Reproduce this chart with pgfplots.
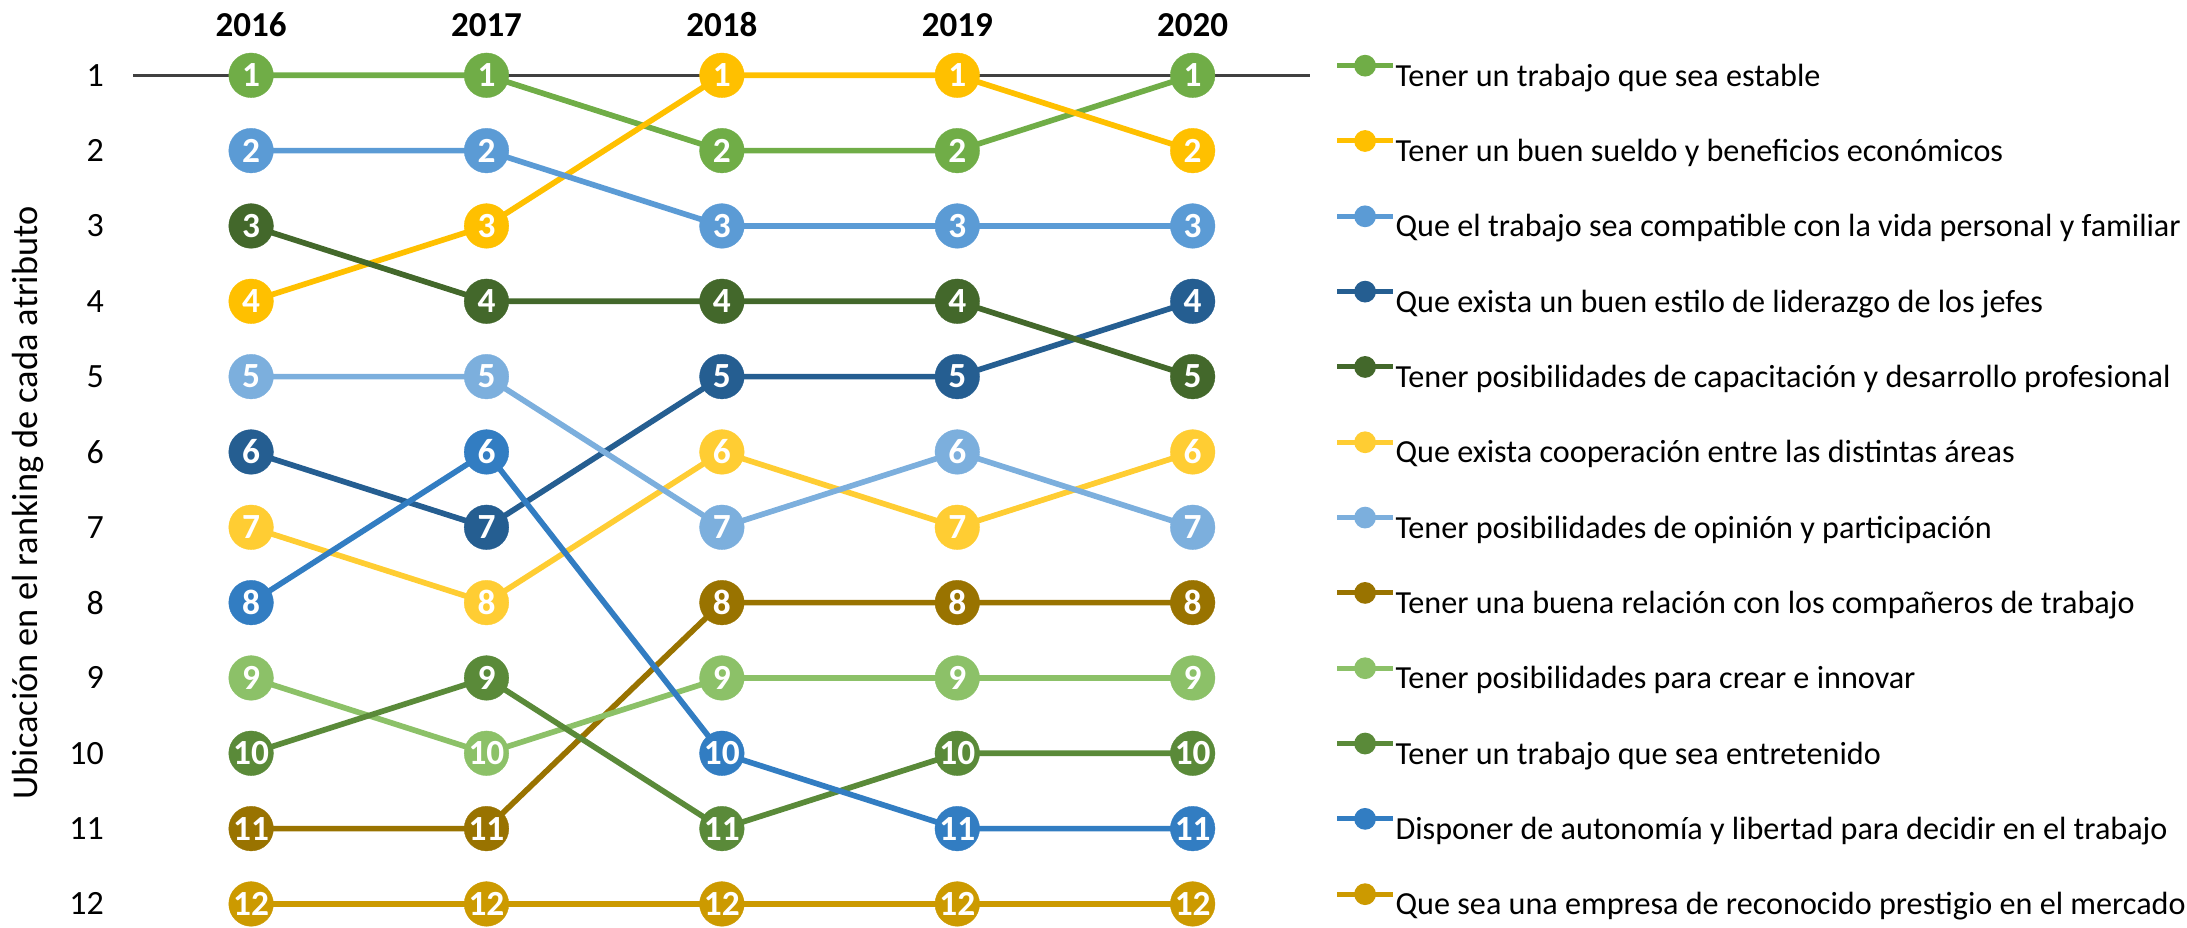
\documentclass[border=0pt]{standalone}
\usepackage{fontspec}
\setmainfont{Carlito}
\usepackage{pgfplots}
\pgfplotsset{compat=1.18}
\definecolor{c1}{HTML}{70AD47}
\definecolor{c2}{HTML}{FFC000}
\definecolor{c3}{HTML}{5B9BD5}
\definecolor{c4}{HTML}{255E91}
\definecolor{c5}{HTML}{43682B}
\definecolor{c6}{HTML}{FFCD33}
\definecolor{c7}{HTML}{7CAFDD}
\definecolor{c8}{HTML}{997300}
\definecolor{c9}{HTML}{8CC168}
\definecolor{c10}{HTML}{5A8A39}
\definecolor{c11}{HTML}{327DC2}
\definecolor{c12}{HTML}{CC9A00}
\definecolor{axgray}{HTML}{404040}
\pgfplotsset{
  bump/.style={color=#1, line width=1.7pt, mark=*, mark size=6.7pt,
    mark options={solid, fill=#1, draw=#1, line width=0.1pt},
    nodes near coords={\pgfmathprintnumber[assume math mode=true]{\pgfplotspointmeta}},
    point meta=y,
    nodes near coords style={anchor=center, text=white, inner sep=0pt,
      font=\bfseries\fontsize{10.6}{12}\selectfont},
    legend image code/.code={
      \draw[#1, line width=1.5pt] (0pt,3.09pt) -- (16.8pt,3.09pt);
      \fill[#1] (8.4pt,3.09pt) circle (2.4pt);
    }},
}
\begin{document}
\begin{tikzpicture}
\begin{axis}[
  scale only axis, width=353.1pt, height=248.6pt,
  xmin=-0.5, xmax=4.5, ymin=1, ymax=12, y dir=reverse,
  clip=false,
  axis line style={draw=none},
  xtick={0,1,2,3,4}, xticklabels={2016,2017,2018,2019,2020},
  xticklabel pos=upper,
  ytick={1,2,3,4,5,6,7,8,9,10,11,12},
  major tick length=0pt,
  tick style={draw=none},
  /pgf/number format/assume math mode=true,
  xticklabel style={font=\bfseries\fontsize{10.5}{12}\selectfont, yshift=7.9pt},
  yticklabel style={font=\fontsize{10.2}{12}\selectfont, xshift=-5.3pt},
  ylabel={Ubicación en el ranking de cada atributo},
  ylabel style={at={(axis cs:-0.948,6.678)}, anchor=center, font=\fontsize{10.9}{12}\selectfont},
  legend style={at={(axis description cs:1.02,1)}, anchor=north west, yshift=11.298pt,
    draw=none, fill=none, inner sep=0pt, row sep=0pt, column sep=0pt,
    font=\fontsize{9.65}{11}\selectfont,
    nodes={inner sep=0pt, text height=14.388pt, text depth=8.208pt}},
  legend cell align=left,
]
\coordinate (bbsw) at (axis cs:-1.0667,12.308);
\coordinate (bbne) at (axis cs:8.2242,0.00027);
\addplot[forget plot, axgray, line width=1pt] coordinates {(-0.5,1) (4.5,1)};
\addplot[bump=c1] coordinates {(0,1) (1,1) (2,2) (3,2) (4,1)};
\addlegendentry{Tener un trabajo que sea estable}
\addplot[bump=c2] coordinates {(0,4) (1,3) (2,1) (3,1) (4,2)};
\addlegendentry{Tener un buen sueldo y beneficios económicos}
\addplot[bump=c3] coordinates {(0,2) (1,2) (2,3) (3,3) (4,3)};
\addlegendentry{Que el trabajo sea compatible con la vida personal y familiar}
\addplot[bump=c4] coordinates {(0,6) (1,7) (2,5) (3,5) (4,4)};
\addlegendentry{Que exista un buen estilo de liderazgo de los jefes}
\addplot[bump=c5] coordinates {(0,3) (1,4) (2,4) (3,4) (4,5)};
\addlegendentry{Tener posibilidades de capacitación y desarrollo profesional}
\addplot[bump=c6] coordinates {(0,7) (1,8) (2,6) (3,7) (4,6)};
\addlegendentry{Que exista cooperación entre las distintas áreas}
\addplot[bump=c7] coordinates {(0,5) (1,5) (2,7) (3,6) (4,7)};
\addlegendentry{Tener posibilidades de opinión y participación}
\addplot[bump=c8] coordinates {(0,11) (1,11) (2,8) (3,8) (4,8)};
\addlegendentry{Tener una buena relación con los compañeros de trabajo}
\addplot[bump=c9] coordinates {(0,9) (1,10) (2,9) (3,9) (4,9)};
\addlegendentry{Tener posibilidades para crear e innovar}
\addplot[bump=c10] coordinates {(0,10) (1,9) (2,11) (3,10) (4,10)};
\addlegendentry{Tener un trabajo que sea entretenido}
\addplot[bump=c11] coordinates {(0,8) (1,6) (2,10) (3,11) (4,11)};
\addlegendentry{Disponer de autonomía y libertad para decidir en el trabajo}
\addplot[bump=c12] coordinates {(0,12) (1,12) (2,12) (3,12) (4,12)};
\addlegendentry{Que sea una empresa de reconocido prestigio en el mercado}
\end{axis}
\pgfresetboundingbox
\path[use as bounding box] (bbsw) rectangle (bbne);
\end{tikzpicture}
\end{document}
